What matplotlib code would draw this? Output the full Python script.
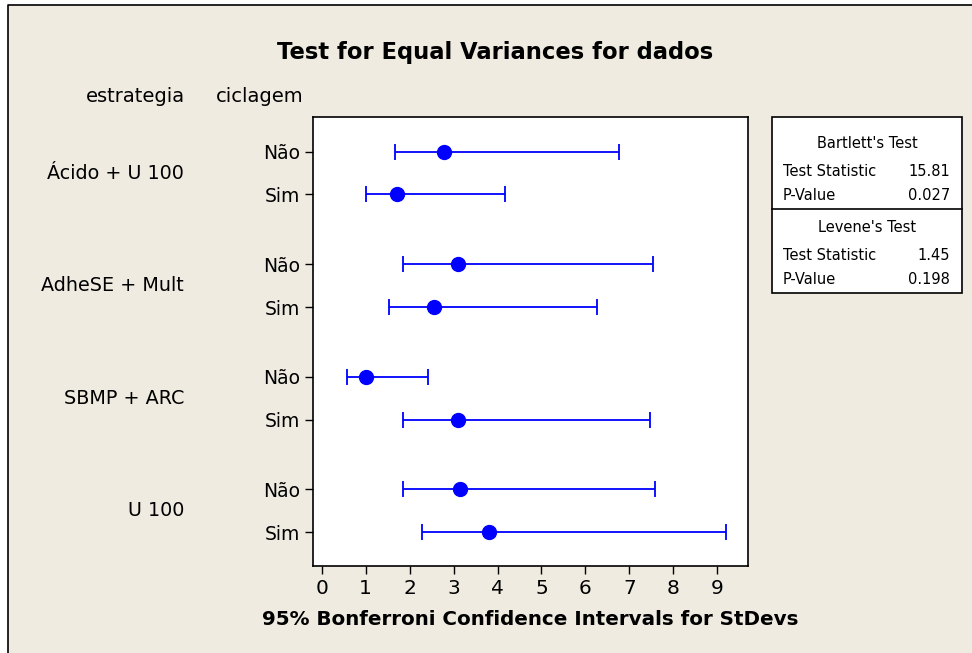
import matplotlib.pyplot as plt
from matplotlib.patches import Rectangle
from matplotlib.lines import Line2D
from matplotlib.transforms import blended_transform_factory

estrategias = ["Ácido + U 100", "AdheSE + Mult", "SBMP + ARC", "U 100"]
ciclagem = ["Não", "Sim"]

# StDev estimates and 95% Bonferroni intervals (row order top to bottom)
sd_point = [2.79, 1.72, 3.10, 2.56, 1.01, 3.10, 3.15, 3.81]
sd_low = [1.67, 1.01, 1.85, 1.53, 0.58, 1.85, 1.85, 2.28]
sd_high = [6.77, 4.18, 7.53, 6.27, 2.42, 7.48, 7.59, 9.21]

bartlett = [("Test Statistic", "15.81"), ("P-Value", "0.027")]
levene = [("Test Statistic", "1.45"), ("P-Value", "0.198")]

bg = "#efebe1"
blue = "#0000ff"
W, H = 972, 653

fig = plt.figure(figsize=(W / 100, H / 100), dpi=100, facecolor="white")

def fx(px):
    return px / W

def fy(py):
    return 1 - py / H

# outer panel (beige, border only on left/top)
fig.patches.append(Rectangle((fx(8), 0), 1, fy(5), transform=fig.transFigure,
                             facecolor=bg, edgecolor="none", zorder=-10))
fig.lines.append(Line2D([fx(8), fx(8), 1], [0, fy(5), fy(5)],
                        transform=fig.transFigure, color="black", linewidth=1.2))

ax = fig.add_axes([fx(313), fy(566), fx(748) - fx(313), fy(117) - fy(566)])
ax.set_facecolor("white")

# row positions: two rows per group, wider gap between groups
gap = 1.63
ypos = []
for g in range(len(estrategias)):
    for r in range(len(ciclagem)):
        ypos.append(g * (1 + gap) + r)

for y, lo, pt, hi in zip(ypos, sd_low, sd_point, sd_high):
    ax.errorbar(pt, y, xerr=[[pt - lo], [hi - pt]], fmt="o", color=blue,
                ecolor=blue, elinewidth=1.3, capsize=6, capthick=1.3,
                markersize=10)

ax.set_xlim(-0.2, 9.7)
ax.set_ylim(ypos[-1] + 0.79, -0.81)
ax.set_xticks(range(10))
ax.set_yticks(ypos)
ax.set_yticklabels(ciclagem * len(estrategias))
ax.tick_params(axis="both", length=6, width=1, color="black")
ax.tick_params(axis="y", labelsize=13.5)
ax.tick_params(axis="x", labelsize=14.5, pad=3)
for s in ax.spines.values():
    s.set_linewidth(1.2)

ax.set_xlabel("95% Bonferroni Confidence Intervals for StDevs",
              fontsize=14.3, fontweight="bold", labelpad=9)

fig.text(fx(495), fy(52), "Test for Equal Variances for dados", ha="center",
         va="center", fontsize=16.3, fontweight="bold")
fig.text(fx(135), fy(96), "estrategia", ha="center", va="center", fontsize=14)
fig.text(fx(260), fy(96), "ciclagem", ha="center", va="center", fontsize=14)

trans = blended_transform_factory(fig.transFigure, ax.transData)
for g, name in enumerate(estrategias):
    ymid = (ypos[2 * g] + ypos[2 * g + 1]) / 2
    ax.text(fx(184), ymid, name, transform=trans, ha="right", va="center", fontsize=13.8)

# stats box
bx0, bx1, by0, by1, bdiv = 772, 962, 117, 293, 209
fig.patches.append(Rectangle((fx(bx0), fy(by1)), fx(bx1) - fx(bx0), fy(by0) - fy(by1),
                             transform=fig.transFigure, facecolor="white",
                             edgecolor="black", linewidth=1.2))
fig.lines.append(Line2D([fx(bx0), fx(bx1)], [fy(bdiv), fy(bdiv)],
                        transform=fig.transFigure, color="black", linewidth=1.2))

def stat_block(title, rows, ytitle, yrows):
    fig.text(fx((bx0 + bx1) / 2), fy(ytitle), title, ha="center", va="center", fontsize=10.5)
    for (lab, val), yr in zip(rows, yrows):
        fig.text(fx(783), fy(yr), lab, ha="left", va="center", fontsize=10.5)
        fig.text(fx(950), fy(yr), val, ha="right", va="center", fontsize=10.5)

stat_block("Bartlett's Test", bartlett, 143, [172, 195])
stat_block("Levene's Test", levene, 227, [256, 279])

fig.savefig("out.png", dpi=100, facecolor=fig.get_facecolor())
